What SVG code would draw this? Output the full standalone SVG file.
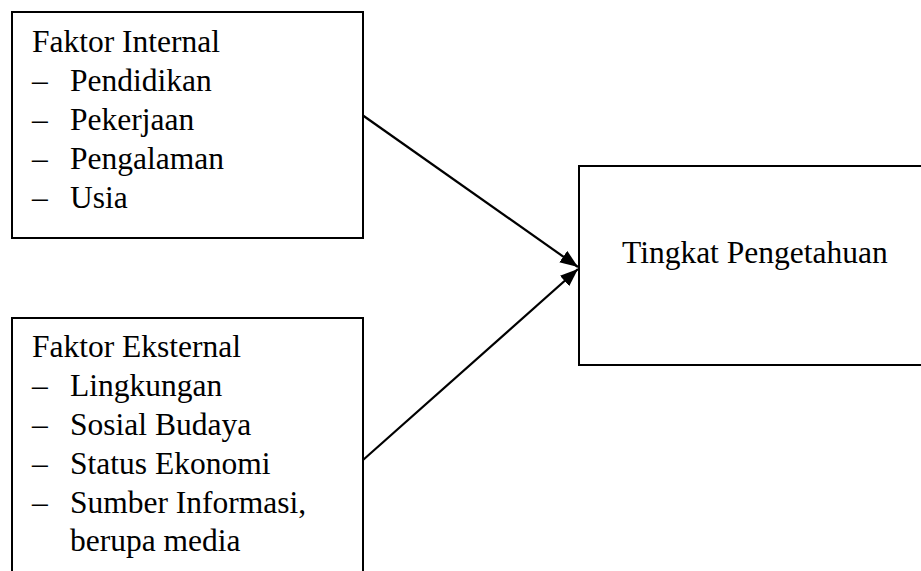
<svg xmlns="http://www.w3.org/2000/svg" width="921" height="571" viewBox="0 0 921 571">
<style>
.box{fill:#fff;stroke:#000;stroke-width:2}
.t{font-family:"Liberation Serif","Times New Roman",serif;font-size:31.5px;fill:#000}
.c{fill:none;stroke:#000;stroke-width:2.2}
</style>
<defs>
<marker id="ah" viewBox="0 0 18 14" refX="18" refY="7" markerWidth="18" markerHeight="14" markerUnits="userSpaceOnUse" orient="auto">
<path d="M0,0 L18,7 L0,14 Z" fill="#000"/>
</marker>
</defs>
<rect width="921" height="571" fill="#fff"/>
<g id="internal">
<rect class="box" x="12" y="12" width="351" height="226"/>
<text class="t" x="32" y="52">Faktor Internal</text>
<text class="t" x="32" y="91">–</text><text class="t" x="70" y="91">Pendidikan</text>
<text class="t" x="32" y="130">–</text><text class="t" x="70" y="130">Pekerjaan</text>
<text class="t" x="32" y="169">–</text><text class="t" x="70" y="169">Pengalaman</text>
<text class="t" x="32" y="208">–</text><text class="t" x="70" y="208">Usia</text>
</g>
<g id="eksternal">
<rect class="box" x="12" y="318" width="351" height="270"/>
<text class="t" x="32" y="357">Faktor Eksternal</text>
<text class="t" x="32" y="396">–</text><text class="t" x="70" y="396">Lingkungan</text>
<text class="t" x="32" y="435">–</text><text class="t" x="70" y="435">Sosial Budaya</text>
<text class="t" x="32" y="474">–</text><text class="t" x="70" y="474">Status Ekonomi</text>
<text class="t" x="32" y="513">–</text><text class="t" x="70" y="513">Sumber Informasi,</text>
<text class="t" x="70" y="551">berupa media</text>
</g>
<g id="pengetahuan">
<rect class="box" x="579" y="166" width="360" height="199"/>
<text class="t" x="622" y="263">Tingkat Pengetahuan</text>
</g>
<g id="connectors">
<line class="c" x1="363" y1="115.5" x2="578" y2="267" marker-end="url(#ah)"/>
<line class="c" x1="363" y1="460" x2="578" y2="269" marker-end="url(#ah)"/>
</g>
</svg>
